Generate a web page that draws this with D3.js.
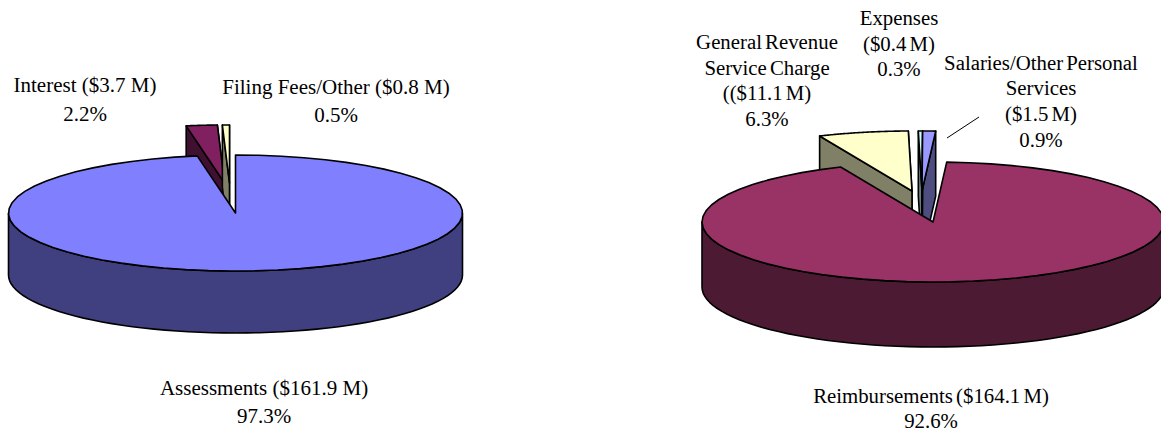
<!DOCTYPE html>
<html lang="en">
<head>
    <meta charset="UTF-8">
    <script src="https://d3js.org/d3.v7.min.js"></script>
    <title>Revenue and Expenditure Pies</title>
    <style>
        html, body { margin: 0; padding: 0; background: #fff; }
        text { font-family: "Liberation Serif", serif; font-size: 21px; fill: #000; text-anchor: middle; }
        .right text { word-spacing: -2px; font-size: 20.8px; }
    </style>
</head>
<body>
    <div id="chart"></div>
    <script>
        // left pie
        const revenueNames = ["Assessments", "Interest", "Filing Fees/Other"];
        const revenueShares = [97.3, 2.2, 0.5];
        const revenueTops = ["#8080ff", "#802060", "#ffffcc"];
        const revenueSides = ["#404080", "#401030", "#808066"];

        // right pie
        const spendingNames = ["Reimbursements", "General Revenue Service Charge", "Expenses", "Salaries/Other Personal Services"];
        const spendingShares = [92.6, 6.3, 0.3, 0.9];
        const spendingTops = ["#993366", "#ffffcc", "#ccffff", "#9999ff"];
        const spendingSides = ["#4d1a33", "#808066", "#668080", "#4d4d80"];

        const revenueLabels = [
            ["Interest ($3.7 M)", "2.2%"],
            ["Filing Fees/Other ($0.8 M)", "0.5%"],
            ["Assessments ($161.9 M)", "97.3%"]
        ];
        const spendingLabels = [
            ["Expenses", "($0.4 M)", "0.3%"],
            ["General Revenue", "Service Charge", "(($11.1 M)", "6.3%"],
            ["Salaries/Other Personal", "Services", "($1.5 M)", "0.9%"],
            ["Reimbursements ($164.1 M)", "92.6%"]
        ];

        const width = 1161, height = 432;
        const svg = d3.select("#chart").append("svg")
            .attr("width", width)
            .attr("height", height)
            .style("display", "block");

        const line = d3.line();

        function drawPie(cfg) {
            const pie = d3.pie().sort(null)
                .startAngle(cfg.start)
                .endAngle(cfg.start + 2 * Math.PI);
            const arcs = pie(cfg.values);
            const g = svg.append("g");

            // flat projection of the pie, angle 0 at 12 o'clock going clockwise
            const project = (a, shift) => [
                cfg.cx + shift[0] + cfg.rx * Math.sin(a),
                cfg.cy + shift[1] - cfg.ry * Math.cos(a)
            ];
            const down = p => [p[0], p[1] + cfg.depth];
            const rim = (a0, a1, shift) => d3.range(0, 61).map(i => project(a0 + (a1 - a0) * i / 60, shift));

            // exploded slices first, the big one goes over them
            arcs.slice(1).concat(arcs[0]).forEach(d => {
                const i = d.index;
                const shift = cfg.shifts[i];
                const apex = [cfg.cx + shift[0], cfg.cy + shift[1]];
                const style = sel => sel
                    .attr("stroke", "#000")
                    .attr("stroke-width", 1.6)
                    .attr("stroke-linejoin", "round");

                // cut walls, only for the pulled out slices
                if (i > 0) {
                    [d.endAngle, d.startAngle].forEach(a => {
                        const p = project(a, shift);
                        g.append("path")
                            .attr("d", line([apex, p, down(p), down(apex)]) + "Z")
                            .attr("fill", cfg.sides[i])
                            .call(style);
                    });
                }

                // outer wall, front half of the rim only
                const twoPi = 2 * Math.PI;
                for (let k = -1; k <= 1; k++) {
                    const a0 = Math.max(d.startAngle, Math.PI / 2 + k * twoPi);
                    const a1 = Math.min(d.endAngle, 3 * Math.PI / 2 + k * twoPi);
                    if (a1 > a0) {
                        const top = rim(a0, a1, shift);
                        g.append("path")
                            .attr("d", line(top.concat(top.map(down).reverse())) + "Z")
                            .attr("fill", cfg.sides[i])
                            .call(style);
                    }
                }

                // top face
                g.append("path")
                    .attr("d", line([apex].concat(rim(d.startAngle, d.endAngle, shift))) + "Z")
                    .attr("fill", cfg.tops[i])
                    .call(style);
            });
        }

        function drawLabel(lines, x, baselines, cls) {
            const t = svg.append("g").attr("class", cls);
            lines.forEach((s, i) => {
                t.append("text").attr("x", x).attr("y", baselines[i]).text(s);
            });
        }

        drawPie({
            values: revenueShares, tops: revenueTops, sides: revenueSides,
            cx: 235.5, cy: 213, rx: 227, ry: 58, depth: 62,
            start: 0,
            shifts: [[0, 0], [-11, -30], [-6, -30]]
        });

        drawPie({
            values: spendingShares, tops: spendingTops, sides: spendingSides,
            cx: 933, cy: 222, rx: 231, ry: 60, depth: 65,
            start: 3.4 * Math.PI / 180,
            shifts: [[0, 0], [-21, -31], [-11, -31], [-11, -31]]
        });

        drawLabel(revenueLabels[0], 85, [92, 121], "left");
        drawLabel(revenueLabels[1], 336, [94, 122], "left");
        drawLabel(revenueLabels[2], 264, [395, 423], "left");

        drawLabel(spendingLabels[0], 899, [25, 51, 76], "right");
        drawLabel(spendingLabels[1], 767, [49, 75, 100, 126], "right");
        drawLabel(spendingLabels[2], 1041, [70, 95, 121, 147], "right");
        drawLabel(spendingLabels[3], 931, [403, 428], "right");

        // leader for the salaries label
        svg.append("line")
            .attr("x1", 947).attr("y1", 138)
            .attr("x2", 979).attr("y2", 117)
            .attr("stroke", "#000");
    </script>
</body>
</html>
